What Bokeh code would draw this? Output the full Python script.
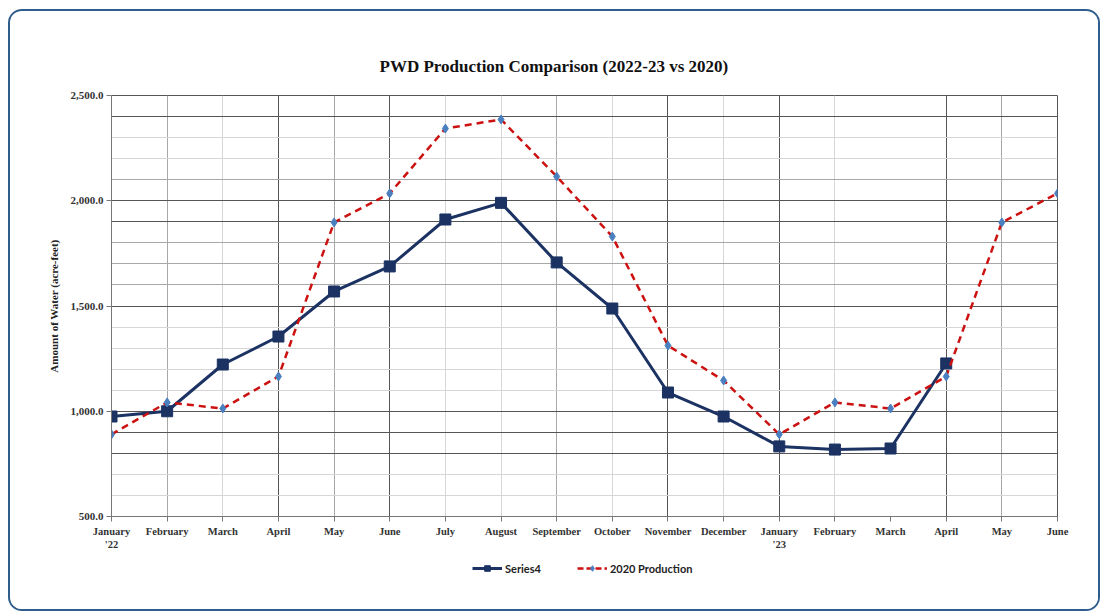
from bokeh.plotting import figure
from bokeh.layouts import column
from bokeh.models import (Range1d, FixedTicker, NumeralTickFormatter, Grid, Legend, LegendItem)
from bokeh.embed import file_html
from bokeh.resources import INLINE

# ---- data ----
months = ["January\n'22", "February", "March", "April", "May", "June", "July", "August",
          "September", "October", "November", "December", "January\n'23", "February",
          "March", "April", "May", "June"]
nan = float("nan")
series4 = [975, 1000, 1222, 1355, 1569, 1688, 1911, 1990, 1707, 1488, 1089, 975,
           833, 818, 823, 1227, nan, nan]
production_2020 = [890, 1042, 1013, 1165, 1897, 2035, 2343, 2386, 2115, 1830, 1312, 1146,
                   890, 1042, 1013, 1165, 1897, 2035]
y_ticks = [500, 1000, 1500, 2000, 2500]
series_names = ["Series4", "2020 Production"]

x = list(range(len(months)))

SERIF = "Liberation Serif"
NAVY = "#1b3263"
RED = "#cc1111"
BLUE = "#4a7fc0"

p = figure(frame_width=946, frame_height=421, output_backend="svg", toolbar_location=None,
           x_range=Range1d(0, len(months) - 1), y_range=Range1d(500, 2500),
           min_border_left=101, min_border_right=41, min_border_top=84, min_border_bottom=40)

p.background_fill_color = "white"
p.border_fill_color = "white"
p.outline_line_color = "#555555"
p.outline_line_width = 1

# title
p.title.text = "PWD Production Comparison (2022-23 vs 2020)"
p.title.text_font = SERIF
p.title.text_font_size = "17px"
p.title.text_font_style = "bold"
p.title.text_color = "#111111"
p.title.align = "left"
p.title.offset = 268
p.title.standoff = 40

# grids
p.xgrid.visible = False
p.ygrid.visible = False
light_x = [2, 6, 7, 9, 11, 13]
mid_x = [1, 4, 8, 16]
dark_x = [3, 5, 10, 12, 15]
light_y = [600, 700, 1100, 1200, 1300, 1400, 2200, 2300]
mid_y = [1600, 1700, 1800, 2100]
dark_y = [800, 900, 1000, 1500, 1900, 2000, 2400]
for ticks, col in [(light_x, "#d6d6d6"), (mid_x, "#a8a8a8"), (dark_x, "#555555")]:
    p.add_layout(Grid(dimension=0, ticker=FixedTicker(ticks=ticks), grid_line_color=col,
                      grid_line_width=1))
for ticks, col in [(light_y, "#d6d6d6"), (mid_y, "#a8a8a8"), (dark_y, "#555555")]:
    p.add_layout(Grid(dimension=1, ticker=FixedTicker(ticks=ticks), grid_line_color=col,
                      grid_line_width=1))

# axes
p.xaxis.ticker = FixedTicker(ticks=x)
p.xaxis.major_label_overrides = {i: m for i, m in enumerate(months)}
p.yaxis.ticker = FixedTicker(ticks=y_ticks)
p.yaxis.formatter = NumeralTickFormatter(format="0,0.0")
for ax in (p.xaxis, p.yaxis):
    ax.axis_line_color = "#777777"
    ax.major_tick_line_color = "#777777"
    ax.major_tick_out = 5
    ax.major_tick_in = 0
    ax.minor_tick_line_color = None
    ax.major_label_text_font = SERIF
    ax.major_label_text_font_style = "bold"
    ax.major_label_text_color = "#333333"
p.xaxis.major_label_text_font_size = "10.5px"
p.yaxis.major_label_text_font_size = "11px"
p.xaxis.major_label_standoff = 4
p.yaxis.major_label_standoff = 3
p.yaxis.axis_label = "Amount of Water (acre-feet)"
p.yaxis.axis_label_text_font = SERIF
p.yaxis.axis_label_text_font_style = "bold"
p.yaxis.axis_label_text_font_size = "11px"
p.yaxis.axis_label_text_color = "#222222"
p.yaxis.axis_label_standoff = 8

# series
p.line(x, series4, line_color=NAVY, line_width=3)
p.scatter(x, series4, marker="square", size=11, fill_color=NAVY, line_color=NAVY)
p.line(x, production_2020, line_color=RED, line_width=2.5, line_dash="7 5")
p.scatter(x, production_2020, marker="diamond", size=9, fill_color=BLUE, line_color=BLUE)

# legend strip (separate small figure so the legend sits below the axis labels);
# its renderers use the same data but fall outside this strip's ranges, so only
# the legend glyphs are visible
lf = figure(width=1088, height=53, output_backend="svg", toolbar_location=None,
            x_range=Range1d(-100, -99), y_range=Range1d(-100, -99),
            min_border_left=0, min_border_right=0, min_border_top=0, min_border_bottom=0)
lf.axis.visible = False
lf.grid.visible = False
lf.outline_line_color = None
lf.background_fill_color = "white"
lf.border_fill_color = "white"
ll1 = lf.line(x, series4, line_color=NAVY, line_width=3)
ls1 = lf.scatter(x, series4, marker="square", size=9, fill_color=NAVY, line_color=NAVY)
ll2 = lf.line(x, production_2020, line_color=RED, line_width=2.5, line_dash="6 3")
ls2 = lf.scatter(x, production_2020, marker="diamond", size=8, fill_color=BLUE, line_color=BLUE)
legend = Legend(items=[LegendItem(label=series_names[0], renderers=[ll1, ls1]),
                       LegendItem(label=series_names[1], renderers=[ll2, ls2])],
                orientation="horizontal", location=(361, 34),
                label_text_font="Lato", label_text_font_size="11px",
                label_text_font_style="bold", label_text_color="#222222",
                glyph_width=30, glyph_height=14, spacing=36, border_line_color=None,
                background_fill_alpha=0, margin=0, padding=4, label_standoff=3)
lf.add_layout(legend)

layout = column(p, lf, spacing=0)
layout.styles = {"border": "2px solid #2f5d8c", "border-radius": "14px", "background": "white",
                 "margin-left": "8px", "margin-top": "9px", "overflow": "hidden"}

open("out.html", "w").write(file_html(layout, INLINE))
